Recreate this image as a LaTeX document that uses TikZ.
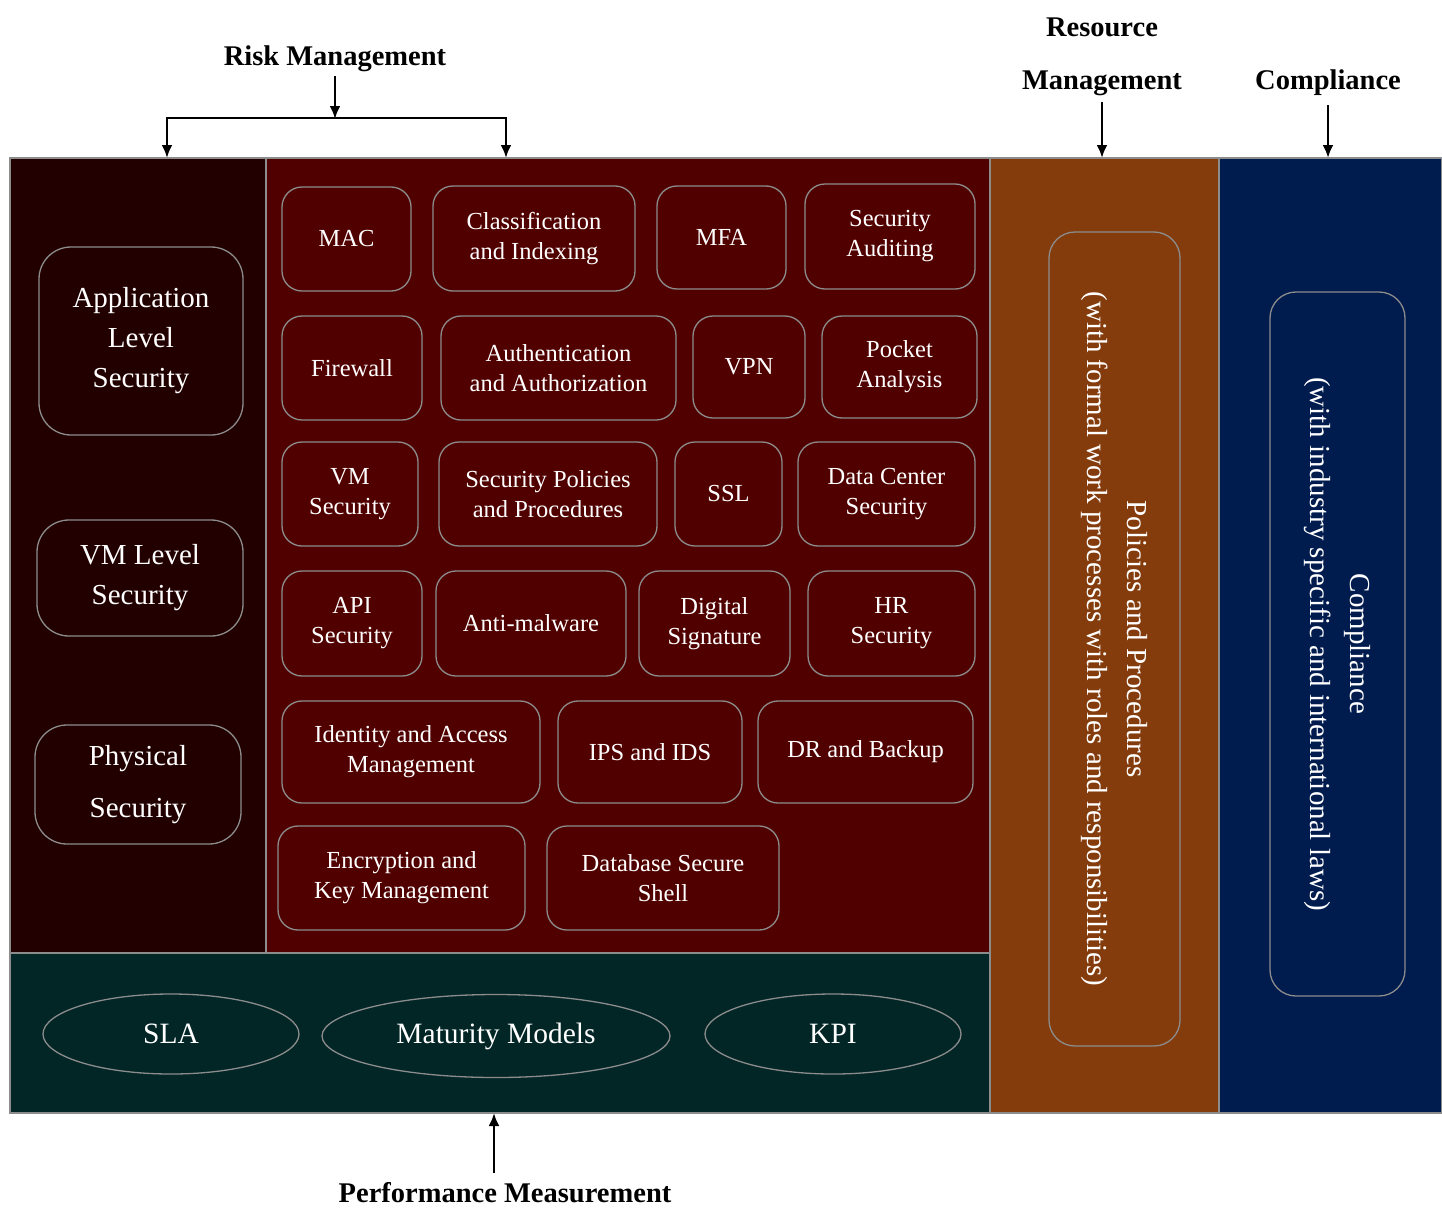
\documentclass[tikz,border=0pt]{standalone}
\usepackage{fontspec}
\setmainfont{Liberation Serif}
\usetikzlibrary{arrows.meta,shapes.geometric}
\definecolor{appdark}{HTML}{220000}
\definecolor{ctrlred}{HTML}{510000}
\definecolor{perfteal}{HTML}{022525}
\definecolor{resorange}{HTML}{843C0C}
\definecolor{compnavy}{HTML}{001B4E}
\definecolor{edgegrey}{HTML}{8C8C8C}
\begin{document}
\begin{tikzpicture}[x=1pt,y=-1pt,
  panel/.style={draw=edgegrey, line width=1.2pt, anchor=north west, inner sep=0pt, outer sep=0pt},
  ctrl/.style={draw=edgegrey, line width=1.3pt, rounded corners=20pt, text=white, align=center,
    font=\fontsize{24.5}{30}\selectfont, inner sep=0pt},
  layer/.style={ctrl, rounded corners=32pt, font=\fontsize{29}{40}\selectfont},
  metric/.style={ellipse, draw=edgegrey, line width=1.3pt, text=white, inner sep=0pt,
    font=\fontsize{29.5}{34}\selectfont},
  policy/.style={ctrl, rotate=-90, rounded corners=26pt, font=\fontsize{29}{40}\selectfont},
  tag/.style={font=\bfseries\fontsize{28.5}{34}\selectfont, text=black, inner sep=0pt},
  arr/.style={line width=2.7pt, -{Latex[length=13pt,width=11pt]}},
  biarr/.style={line width=2.7pt, {Latex[length=13pt,width=11pt]}-{Latex[length=13pt,width=11pt]}}
]
\useasboundingbox (0,0) rectangle (1442,1207);

% coloured panels
\node[panel, fill=appdark,    minimum width=256pt, minimum height=795pt] (appcol) at (10,158) {};
\node[panel, fill=ctrlred,    minimum width=724pt, minimum height=795pt] (ctrlcol) at (266,158) {};
\node[panel, fill=perfteal,   minimum width=980pt, minimum height=160pt] (perfrow) at (10,953) {};
\node[panel, fill=resorange,  minimum width=229pt, minimum height=955pt] (rescol) at (990,158) {};
\node[panel, fill=compnavy,   minimum width=223pt, minimum height=955pt] (compcol) at (1219,158) {};

% security levels
\node[layer, minimum width=204pt, minimum height=188pt] (applvl) at (141,341) {Application\\Level\\Security};
\node[layer, minimum width=206pt, minimum height=116pt] (vmlvl) at (140,578) {VM Level\\Security};
\node[layer, minimum width=206pt, minimum height=119pt] (phys) at (138,784.5) {Physical\\[12pt]Security};

% security controls, row 1
\node[ctrl, minimum width=129pt, minimum height=104pt] (mac) at (346.5,239) {MAC};
\node[ctrl, minimum width=202pt, minimum height=105pt] (classif) at (534,238.5) {Classification\\and Indexing};
\node[ctrl, minimum width=129pt, minimum height=103pt] (mfa) at (721.5,237.5) {MFA};
\node[ctrl, minimum width=170pt, minimum height=105pt] (audit) at (890,236.5) {Security\\Auditing};
% row 2
\node[ctrl, minimum width=140pt, minimum height=104pt] (firewall) at (352,368) {Firewall};
\node[ctrl, minimum width=235pt, minimum height=104pt] (authn) at (558.5,368) {Authentication\\and Authorization};
\node[ctrl, minimum width=112pt, minimum height=102pt] (vpn) at (749,367) {VPN};
\node[ctrl, minimum width=155pt, minimum height=102pt] (pocket) at (899.5,367) {Pocket\\Analysis};
% row 3
\node[ctrl, minimum width=136pt, minimum height=104pt] (vmsec) at (350,494) {VM\\Security};
\node[ctrl, minimum width=218pt, minimum height=104pt] (secpol) at (548,494) {Security Policies\\and Procedures};
\node[ctrl, minimum width=107pt, minimum height=104pt] (ssl) at (728.5,494) {SSL};
\node[ctrl, minimum width=177pt, minimum height=104pt] (dcsec) at (886.5,494) {Data Center\\Security};
% row 4
\node[ctrl, minimum width=140pt, minimum height=105pt] (apisec) at (352,623.5) {API\\Security};
\node[ctrl, minimum width=190pt, minimum height=105pt] (antimal) at (531,623.5) {Anti-malware};
\node[ctrl, minimum width=151pt, minimum height=105pt] (digsig) at (714.5,623.5) {Digital\\Signature};
\node[ctrl, minimum width=167pt, minimum height=105pt] (hrsec) at (891.5,623.5) {HR\\Security};
% row 5
\node[ctrl, minimum width=258pt, minimum height=102pt] (iam) at (411,752) {Identity and Access\\Management};
\node[ctrl, minimum width=184pt, minimum height=102pt] (ips) at (650,752) {IPS and IDS};
\node[ctrl, minimum width=215pt, minimum height=102pt] (drbk) at (865.5,752) {DR and Backup};
% row 6
\node[ctrl, minimum width=247pt, minimum height=104pt] (encr) at (401.5,878) {Encryption and\\Key Management};
\node[ctrl, minimum width=232pt, minimum height=104pt] (dbssh) at (663,878) {Database Secure\\Shell};

% performance metrics
\node[metric, minimum width=256pt, minimum height=80pt] (sla) at (171,1034) {SLA};
\node[metric, minimum width=348pt, minimum height=83pt] (matur) at (496,1036) {Maturity Models};
\node[metric, minimum width=256pt, minimum height=80pt] (kpi) at (833,1034) {KPI};

% policies and compliance
\node[policy, minimum width=814pt, minimum height=131pt] (polproc) at (1114.5,639)
  {Policies and Procedures\\(with formal work processes with roles and responsibilities)};
\node[policy, minimum width=704pt, minimum height=135pt] (complaw) at (1337.5,644)
  {Compliance\\(with industry specific and international laws)};

% headings and arrows
\node[tag] (risk) at (335,59) {Risk Management};
\coordinate (riskfork) at (335,118);
\coordinate (riskL) at (167,118);
\coordinate (riskR) at (506,118);
\draw[arr, shorten <=4pt, shorten >=-1pt] (risk.south) -- (riskfork);
\draw[biarr, line join=miter] (riskL |- appcol.north) -- (riskL) -- (riskR) -- (riskR |- ctrlcol.north);

\node[tag, align=center, font=\bfseries\fontsize{28.5}{53}\selectfont] (resmgmt) at (1102,57) {Resource\\Management};
\draw[arr, shorten <=6pt] (resmgmt.south) -- (resmgmt.south |- rescol.north);

\node[tag] (compl) at (1328,83) {Compliance};
\draw[arr, shorten <=9pt] (compl.south) -- (compl.south |- compcol.north);

\node[tag] (perf) at (505,1193) {Performance Measurement};
\draw[arr, shorten <=10pt] ([xshift=-11pt]perf.north) -- ([xshift=-11pt]perf.north |- perfrow.south);
\end{tikzpicture}
\end{document}
